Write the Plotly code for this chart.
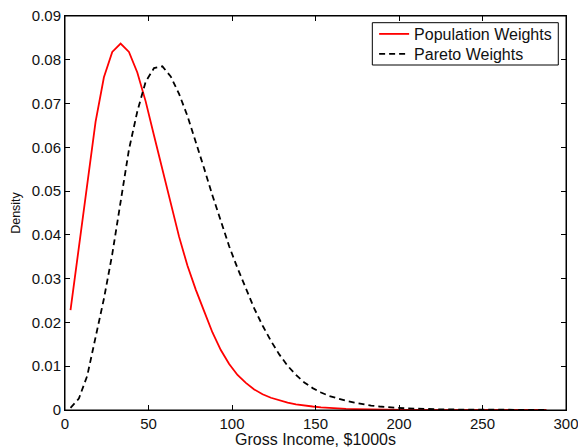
import plotly.graph_objects as go

income = [3.3, 8.3, 13.3, 18.3, 23.3, 28.3, 33.3, 38.3, 43.3, 48.3,
          53.3, 58.3, 63.3, 68.3, 73.3, 78.3, 83.3, 88.3, 93.3, 98.3,
          103.3, 108.3, 113.3, 118.3, 123.3, 128.3, 133.3, 138.3, 143.3, 148.3,
          153.3, 158.3, 163.3, 168.3, 173.3, 178.3, 183.3, 188.3, 193.3, 198.3,
          203.3, 208.3, 213.3, 218.3, 223.3, 228.3, 233.3, 238.3, 243.3, 248.3,
          253.3, 258.3, 263.3, 268.3, 273.3, 278.3, 283.3, 288.3]

population_weights = [0.0228, 0.0370, 0.0515, 0.0658, 0.0760, 0.0818, 0.0837, 0.0818, 0.0771, 0.0705,
                      0.0627, 0.0548, 0.0470, 0.0396, 0.0330, 0.0275, 0.0226, 0.0177, 0.0137, 0.0105,
                      0.0080, 0.0062, 0.0047, 0.0036, 0.0028, 0.0022, 0.0017, 0.0013, 0.0010, 0.0008,
                      0.0006, 0.00045, 0.00034, 0.00026, 0.00020, 0.00015, 0.00011, 0.00008, 0.00006, 0.00005,
                      0.00004, 0.00003, 0.00002, 0.00002, 0.00001, 0.00001, 0.00001, 0.00001, 0.000005, 0.000005,
                      0.000005, 0.000003, 0.000003, 0.000002, 0.000002, 0.000001, 0.000001, 0.000001]

pareto_weights = [0.0005, 0.0026, 0.0078, 0.0163, 0.0254, 0.0356, 0.0478, 0.0595, 0.0682, 0.0750,
                  0.0781, 0.0785, 0.0762, 0.0722, 0.0672, 0.0614, 0.0552, 0.0490, 0.0430, 0.0374,
                  0.0324, 0.0277, 0.0232, 0.0193, 0.0158, 0.0127, 0.0101, 0.0080, 0.0063, 0.0050,
                  0.0040, 0.0032, 0.0026, 0.0021, 0.0017, 0.0013, 0.0010, 0.0008, 0.0006, 0.0005,
                  0.0004, 0.0003, 0.00025, 0.0002, 0.00015, 0.00012, 0.0001, 0.00008, 0.00006, 0.00005,
                  0.00004, 0.00003, 0.00003, 0.00002, 0.00002, 0.00002, 0.00001, 0.00001]

x_ticks = [0, 50, 100, 150, 200, 250, 300]
y_ticks = [0, 0.01, 0.02, 0.03, 0.04, 0.05, 0.06, 0.07, 0.08, 0.09]
y_ticktext = ["0", "0.01", "0.02", "0.03", "0.04", "0.05", "0.06", "0.07", "0.08", "0.09"]

FONT = "Liberation Sans, Arial, Helvetica, sans-serif"
TXT = "#111111"

fig = go.Figure()
fig.add_trace(go.Scatter(x=income, y=population_weights, mode="lines",
                         name="Population Weights", legend="legend",
                         line=dict(color="#ff0000", width=1.8)))
fig.add_trace(go.Scatter(x=income, y=pareto_weights, mode="lines",
                         name="Pareto Weights", legend="legend2",
                         line=dict(color="#000000", width=1.8, dash="6px,4px")))
# invisible helper trace so the top/right tick axes are drawn
fig.add_trace(go.Scatter(x=income, y=pareto_weights, mode="lines", xaxis="x2", yaxis="y2",
                         showlegend=False, hoverinfo="skip", opacity=0,
                         line=dict(width=0)))

axis_common = dict(showline=True, linecolor="black", linewidth=1, mirror="ticks",
                   ticks="inside", ticklen=5, tickcolor="black", tickwidth=1,
                   showgrid=False, zeroline=False, automargin=False,
                   ticklabeloverflow="allow",
                   tickfont=dict(family=FONT, size=15, color=TXT))

fig.update_layout(
    xaxis=dict(range=[0, 300], tickvals=x_ticks,
               title=dict(text="Gross Income, $1000s", standoff=2,
                          font=dict(family=FONT, size=16, color=TXT)),
               **axis_common),
    yaxis=dict(range=[0, 0.09], tickvals=y_ticks, ticktext=y_ticktext,
               title=dict(text="Density", standoff=8,
                          font=dict(family=FONT, size=12.5, color=TXT)),
               **axis_common),
    xaxis2=dict(overlaying="x", side="top", anchor="y2", range=[0, 300], tickvals=x_ticks,
                ticks="inside", ticklen=5, tickcolor="black", tickwidth=1,
                showticklabels=False, showgrid=False, zeroline=False, showline=False,
                automargin=False),
    yaxis2=dict(overlaying="y", side="right", anchor="x2", range=[0, 0.09], tickvals=y_ticks,
                ticks="inside", ticklen=5, tickcolor="black", tickwidth=1,
                showticklabels=False, showgrid=False, zeroline=False, showline=False,
                automargin=False),
)

legend_common = dict(bgcolor="rgba(0,0,0,0)", borderwidth=0,
                     font=dict(family=FONT, size=16, color=TXT),
                     xanchor="left", yanchor="middle", itemwidth=30)

fig.update_layout(
    width=578, height=448,
    margin=dict(l=65, r=12, t=16, b=38, pad=0),
    paper_bgcolor="white", plot_bgcolor="white",
    showlegend=True,
    legend=dict(x=0.617, y=0.9543, **legend_common),
    legend2=dict(x=0.617, y=0.9036, **legend_common),
    shapes=[
        dict(type="rect", xref="paper", yref="paper",
             x0=0.6134, x1=0.9846, y0=0.8756, y1=0.983,
             line=dict(color="black", width=1), fillcolor="white", layer="below"),
        dict(type="rect", xref="x domain", yref="y domain",
             x0=0, x1=1, y0=0, y1=1,
             line=dict(color="black", width=1), fillcolor="rgba(0,0,0,0)", layer="above"),
    ],
    font=dict(family=FONT, size=15, color=TXT),
)

fig.write_html("out.html",
               config={"displayModeBar": False},
               post_script="document.body.style.margin='0';document.body.style.overflow='hidden';")
